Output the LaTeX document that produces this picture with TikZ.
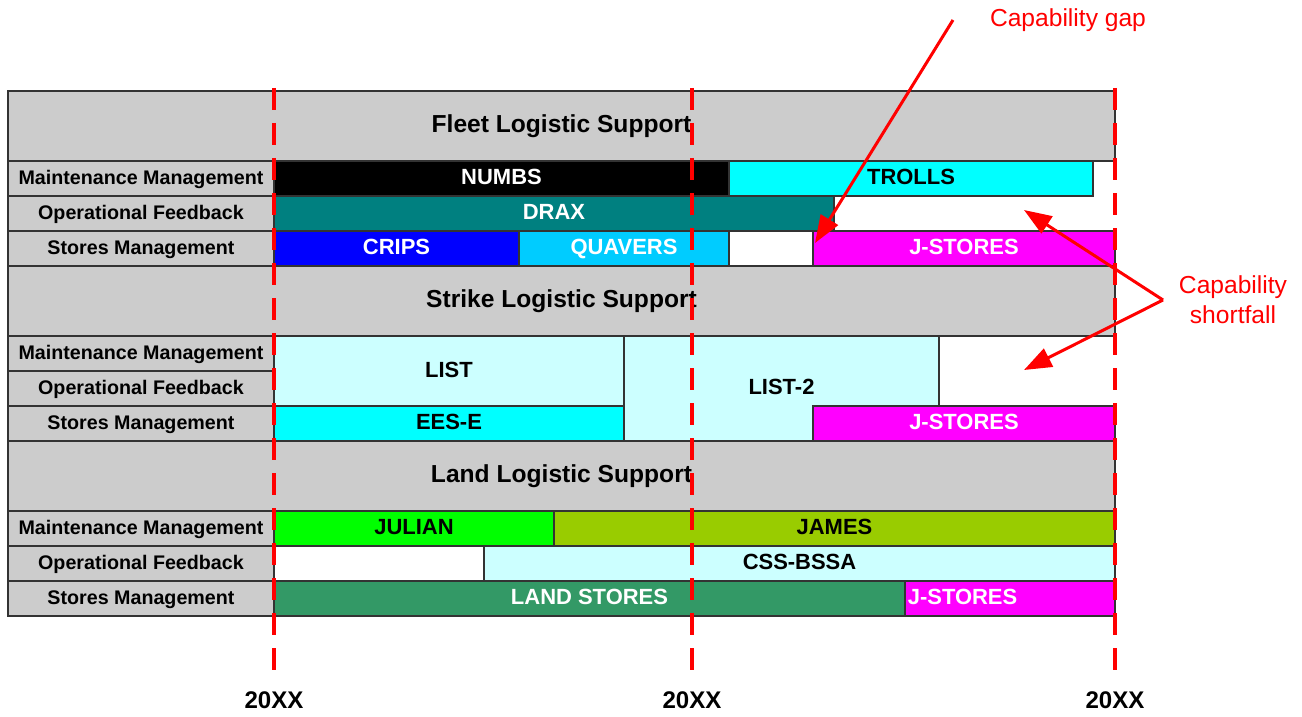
\documentclass[tikz,border=0pt]{standalone}
\usepackage{fontspec}
\setmainfont{Liberation Sans}
\usetikzlibrary{fit,arrows.meta}
\definecolor{hdrgray}{HTML}{CCCCCC}
\definecolor{draxteal}{HTML}{008080}
\definecolor{quavblue}{HTML}{00CCFF}
\definecolor{brightcyan}{HTML}{00FFFF}
\definecolor{jmagenta}{HTML}{FF00FF}
\definecolor{palecyan}{HTML}{CCFFFF}
\definecolor{julgreen}{HTML}{00FF00}
\definecolor{jamesolive}{HTML}{99CC00}
\definecolor{landgreen}{HTML}{339966}
\tikzset{
  cell/.style={draw=black!80, line width=0.6pt, inner sep=0pt},
  capsmid/.style={inner sep=0pt, text height=0.72em, text depth=0pt},
  barlbl/.style={capsmid, font=\bfseries\fontsize{12.5}{15}\selectfont},
  hdrlbl/.style={capsmid, font=\bfseries\fontsize{14}{17}\selectfont},
  rowtxt/.style={capsmid, font=\bfseries\fontsize{11.2}{13}\selectfont},
  header/.style={cell, fill=hdrgray},
  rowlbl/.style={cell, fill=hdrgray},
  bar/.style={cell},
  milestone/.style={red, line width=0.8mm, dash pattern=on 4.4mm off 2.6mm},
  callout/.style={red, line width=0.6mm, -{Triangle[length=5.5mm,width=4mm]}},
  note/.style={red, font=\fontsize{14}{17}\selectfont, align=center},
  year/.style={font=\bfseries\fontsize{13.7}{16}\selectfont}
}
\begin{document}
\begin{tikzpicture}[x=0.2mm,y=-0.2mm]
\useasboundingbox (0,0) rectangle (1302,717);
% headers and row labels
\foreach \g/\y/\grp in {fleet/91/Fleet,strike/266/Strike,land/441/Land}{
  \node[header, fit={(8,\y)(1115,\y+70)}, label={[hdrlbl]center:\grp\ Logistic Support}] (\g) {};
  \node[rowlbl, fit={(8,\y+70)(274,\y+105)}, label={[rowtxt]center:Maintenance Management}] (\g mm) {};
  \node[rowlbl, fit={(8,\y+105)(274,\y+140)}, label={[rowtxt]center:Operational Feedback}] (\g of) {};
  \node[rowlbl, fit={(8,\y+140)(274,\y+175)}, label={[rowtxt]center:Stores Management}] (\g sm) {};
}
% fleet
\node[bar, fill=black, fit={(274,161)(729,196)}, label={[barlbl,white]center:NUMBS}] (numbs) {};
\node[bar, fill=brightcyan, fit={(729,161)(1093,196)}, label={[barlbl]center:TROLLS}] (trolls) {};
\node[bar, fill=draxteal, fit={(274,196)(834,231)}, label={[barlbl,white]center:DRAX}] (drax) {};
\node[bar, fill=blue, fit={(274,231)(519,266)}, label={[barlbl,white]center:CRIPS}] (crips) {};
\node[bar, fill=quavblue, fit={(519,231)(729,266)}, label={[barlbl,white]center:QUAVERS}] (quavers) {};
\node[bar, fill=white, fit={(729,231)(813,266)}] (gapbox) {};
\node[bar, fill=jmagenta, fit={(813,231)(1115,266)}, label={[barlbl,white]center:J-STORES}] (fjstores) {};
% strike
\node[bar, fill=palecyan, fit={(274,336)(624,406)}, label={[barlbl]center:LIST}] (list) {};
\node[bar, fill=brightcyan, fit={(274,406)(624,441)}, label={[barlbl]center:EES-E}] (eese) {};
\node[bar, fill=palecyan, fit={(624,336)(939,441)}, label={[barlbl]center:LIST-2}] (list2) {};
\node[bar, fill=jmagenta, fit={(813,406)(1115,441)}, label={[barlbl,white]center:J-STORES}] (sjstores) {};
% land
\node[bar, fill=julgreen, fit={(274,511)(554,546)}, label={[barlbl]center:JULIAN}] (julian) {};
\node[bar, fill=jamesolive, fit={(554,511)(1115,546)}, label={[barlbl]center:JAMES}] (james) {};
\node[bar, fill=palecyan, fit={(484,546)(1115,581)}, label={[barlbl]center:CSS-BSSA}] (cssbssa) {};
\node[bar, fill=landgreen, fit={(274,581)(905,616)}, label={[barlbl,white]center:LAND STORES}] (landstores) {};
\node[bar, fill=jmagenta, fit={(905,581)(1115,616)}] (ljstores) {};
\node[barlbl, white, anchor=west] (ljtext) at ([xshift=0.6mm]ljstores.west) {J-STORES};
% milestones
\foreach \x/\n in {274/1,692/2,1115/3}{
  \coordinate (mt\n) at (\x,88);
  \coordinate (mb\n) at (\x,683);
  \draw[milestone] (mt\n) -- (mb\n);
  \node[year] (yr\n) at (\x,700) {20XX};
}
% callouts
\node[note] (gaptxt) at (1068,20) {Capability gap};
\coordinate (gapstart) at (953,20);
\coordinate (gaptip) at (815,243);
\draw[callout] (gapstart) -- (gaptip);
\node[note] (shorttxt) at (1233,300) {Capability\\shortfall};
\coordinate (fork) at (1163,300);
\coordinate (shortA) at (1024,210);
\coordinate (shortB) at (1024,370);
\draw[callout] (fork) -- (shortA);
\draw[callout] (fork) -- (shortB);
\end{tikzpicture}
\end{document}
